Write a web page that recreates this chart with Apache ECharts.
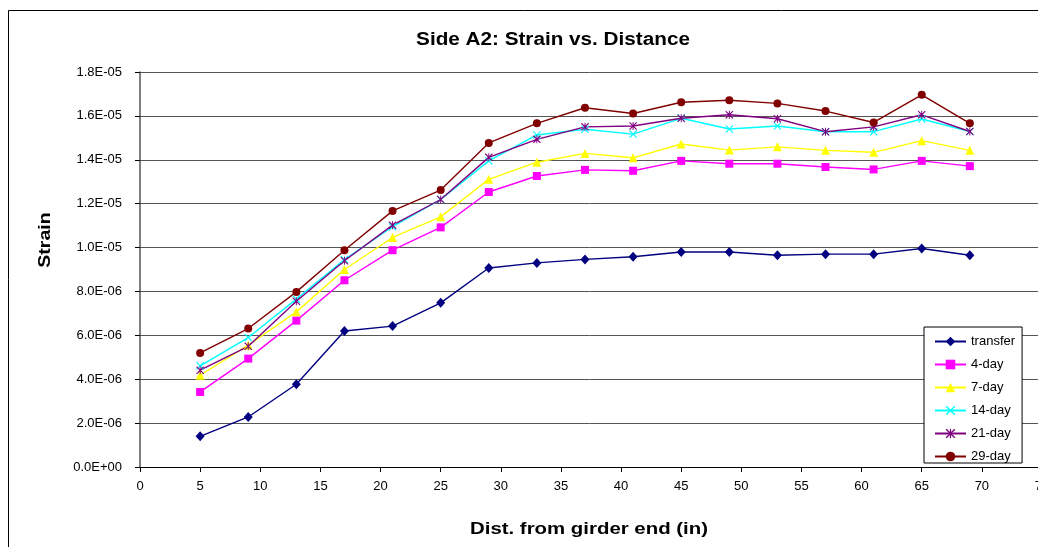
<!DOCTYPE html>
<html>
<head>
<meta charset="utf-8">
<script src="https://cdn.jsdelivr.net/npm/echarts@6/dist/echarts.min.js"></script>
<style>
html,body{margin:0;padding:0;background:#fff;}
#chart{width:1038px;height:547px;}
</style>
</head>
<body>
<div id="chart"></div>
<script>
// ---- data ----
const distances = [5, 9, 13, 17, 21, 25, 29, 33, 37, 41, 45, 49, 53, 57, 61, 65, 69];
const seriesNames = ['transfer', '4-day', '7-day', '14-day', '21-day', '29-day'];
const transfer = [1.40e-6, 2.28e-6, 3.77e-6, 6.20e-6, 6.42e-6, 7.48e-6, 9.07e-6, 9.30e-6, 9.46e-6, 9.58e-6, 9.80e-6, 9.80e-6, 9.65e-6, 9.70e-6, 9.70e-6, 9.96e-6, 9.65e-6];
const day4 = [3.42e-6, 4.94e-6, 6.67e-6, 8.51e-6, 9.88e-6, 10.92e-6, 12.53e-6, 13.26e-6, 13.54e-6, 13.50e-6, 13.95e-6, 13.82e-6, 13.82e-6, 13.67e-6, 13.56e-6, 13.95e-6, 13.71e-6];
const day7 = [4.18e-6, 5.55e-6, 7.07e-6, 9.00e-6, 10.46e-6, 11.40e-6, 13.11e-6, 13.89e-6, 14.29e-6, 14.09e-6, 14.72e-6, 14.44e-6, 14.59e-6, 14.43e-6, 14.34e-6, 14.87e-6, 14.43e-6];
const day14 = [4.61e-6, 5.90e-6, 7.65e-6, 9.45e-6, 10.95e-6, 12.19e-6, 13.95e-6, 15.13e-6, 15.39e-6, 15.17e-6, 15.89e-6, 15.40e-6, 15.54e-6, 15.28e-6, 15.28e-6, 15.86e-6, 15.29e-6];
const day21 = [4.41e-6, 5.50e-6, 7.55e-6, 9.40e-6, 11.02e-6, 12.19e-6, 14.11e-6, 14.93e-6, 15.50e-6, 15.54e-6, 15.89e-6, 16.05e-6, 15.87e-6, 15.28e-6, 15.50e-6, 16.05e-6, 15.29e-6];
const day29 = [5.20e-6, 6.31e-6, 7.98e-6, 9.88e-6, 11.67e-6, 12.62e-6, 14.77e-6, 15.66e-6, 16.37e-6, 16.11e-6, 16.62e-6, 16.71e-6, 16.57e-6, 16.22e-6, 15.70e-6, 16.96e-6, 15.66e-6];
const xTicks = {min: 0, max: 75, step: 5};
const yTicks = {min: 0, max: 1.8e-5, step: 2e-6};

// ---- styles ----
const FONT = 'Liberation Sans, Arial, Helvetica, sans-serif';
const colors = ['#000080', '#FF00FF', '#FFFF00', '#00FFFF', '#800080', '#800000'];
const X_PATH = 'path://M0,1 L1,0 L5,4 L9,0 L10,1 L6,5 L10,9 L9,10 L5,6 L1,10 L0,9 L4,5 Z';
const STAR_PATH = 'path://M0,1 L1,0 L5,4 L9,0 L10,1 L6,5 L10,9 L9,10 L5,6 L1,10 L0,9 L4,5 Z M4.4,0 L5.6,0 L5.6,10 L4.4,10 Z';
const symbols = ['diamond', 'rect', 'triangle', X_PATH, STAR_PATH, 'circle'];
const symbolSizes = [[9, 10], 8, 9, 8, 8, 8];
const values = [transfer, day4, day7, day14, day21, day29];

function fmtExp(v) {
  let s = Number(v).toExponential(1);
  let parts = s.split('e');
  let exp = parseInt(parts[1], 10);
  let sign = exp < 0 ? '-' : '+';
  let a = Math.abs(exp);
  return parts[0] + 'E' + sign + (a < 10 ? '0' + a : String(a));
}

const series = seriesNames.map((name, i) => ({
  name: name,
  type: 'line',
  data: distances.map((d, j) => [d, values[i][j]]),
  symbol: symbols[i],
  symbolSize: symbolSizes[i],
  showAllSymbol: true,
  lineStyle: {color: colors[i], width: 1.4},
  itemStyle: {color: colors[i]},
  emphasis: {disabled: true},
  animation: false
}));

const chart = echarts.init(document.getElementById('chart'), null, {renderer: 'canvas'});
chart.setOption({
  backgroundColor: '#fff',
  animation: false,
  textStyle: {fontFamily: FONT},
  grid: {left: 140, top: 72, width: 902, height: 395, containLabel: false, outerBoundsMode: 'none'},
  xAxis: {
    type: 'value', min: xTicks.min, max: xTicks.max, interval: xTicks.step,
    axisLine: {lineStyle: {color: '#000', width: 1}},
    axisTick: {show: true, length: 5, lineStyle: {color: '#000'}},
    axisLabel: {color: '#000', fontSize: 13, fontFamily: FONT, margin: 13},
    splitLine: {show: false}
  },
  yAxis: {
    type: 'value', min: yTicks.min, max: yTicks.max, interval: yTicks.step,
    axisLine: {show: true, lineStyle: {color: '#555', width: 1.5}},
    axisTick: {show: true, length: 5, lineStyle: {color: '#000'}},
    axisLabel: {color: '#000', fontSize: 13, fontFamily: FONT, margin: 18, formatter: fmtExp},
    splitLine: {show: true, lineStyle: {color: '#555', width: 1}}
  },
  legend: {
    orient: 'vertical',
    left: 924, top: 327,
    itemWidth: 31, itemHeight: 12, itemGap: 10,
    padding: [8, 7, 0, 10],
    borderColor: '#000', borderWidth: 1,
    backgroundColor: '#fff',
    textStyle: {color: '#000', fontSize: 13, fontFamily: FONT},
    data: seriesNames
  },
  graphic: [
    {type: 'rect', silent: true, z: -10, shape: {x: 8.5, y: 10.5, width: 1200, height: 700}, style: {fill: 'none', stroke: '#000', lineWidth: 1}},
    {type: 'text', silent: true, x: 553, y: 40, scaleX: 1.15, style: {text: 'Side A2: Strain vs. Distance', font: 'bold 18px ' + FONT, fill: '#000', textAlign: 'center', textVerticalAlign: 'middle'}},
    {type: 'text', silent: true, x: 45, y: 240, rotation: Math.PI / 2, scaleX: 1.15, style: {text: 'Strain', font: 'bold 17px ' + FONT, fill: '#000', textAlign: 'center', textVerticalAlign: 'middle'}},
    {type: 'text', silent: true, x: 589, y: 529, scaleX: 1.2, style: {text: 'Dist. from girder end (in)', font: 'bold 17px ' + FONT, fill: '#000', textAlign: 'center', textVerticalAlign: 'middle'}}
  ],
  series: series
});
</script>
</body>
</html>
